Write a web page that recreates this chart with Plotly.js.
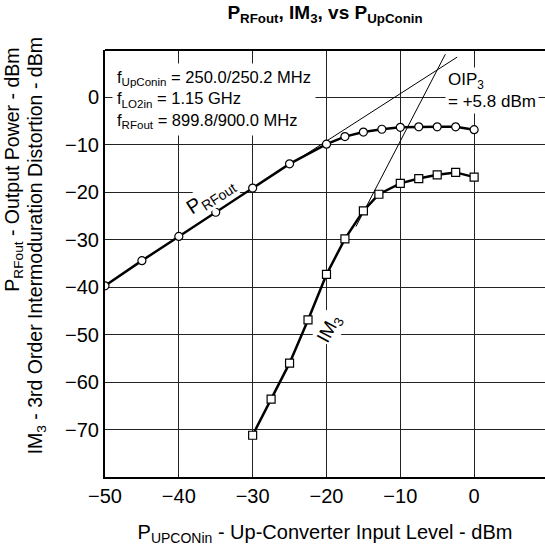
<!DOCTYPE html>
<html><head><meta charset="utf-8">
<script src="https://cdn.plot.ly/plotly-3.0.1.min.js"></script>
<style>html,body{margin:0;padding:0;background:#fff}</style>
</head><body><div id="chart" style="width:545px;height:546px"></div>
<script>
// P_RFout (circles)
const prfX = [-50, -45, -40, -35, -30, -25, -20, -17.5, -15, -12.5, -10, -7.5, -5, -2.5, 0];
const prfY = [-39.7, -34.4, -29.3, -24.2, -19.1, -14.0, -9.85, -8.25, -7.3, -6.7, -6.3, -6.2, -6.2, -6.2, -6.8];
// IM3 (squares)
const im3X = [-30, -27.5, -25, -22.5, -20, -17.5, -15, -12.9, -10, -7.5, -5, -2.5, 0];
const im3Y = [-71.2, -63.6, -56.0, -46.9, -37.3, -29.8, -23.9, -20.4, -18.1, -17.1, -16.3, -15.8, -16.8];
// extrapolation (asymptote) lines
const fundLineX = [-25, -2.3];
const fundLineY = [-14.2, 8.5];
const im3LineX = [-16, -3.9];
const im3LineY = [-27.2, 9.1];
const xTicks = [-50, -40, -30, -20, -10, 0];
const yTicks = [-70, -60, -50, -40, -30, -20, -10, 0];

const F = '"Liberation Sans", Arial, Helvetica, sans-serif';
const fmt = v => v < 0 ? '\u2212' + Math.abs(v) : String(v);

const traces = [
  {x: fundLineX, y: fundLineY, mode: 'lines', line: {color: '#000', width: 1}, hoverinfo: 'skip'},
  {x: im3LineX, y: im3LineY, mode: 'lines', line: {color: '#000', width: 1}, hoverinfo: 'skip'},
  {x: prfX, y: prfY, mode: 'lines+markers', line: {color: '#000', width: 2.5},
   marker: {symbol: 'circle', size: 8, color: '#fff', line: {color: '#000', width: 1.2}}},
  {x: im3X, y: im3Y, mode: 'lines+markers', line: {color: '#000', width: 2.5},
   marker: {symbol: 'square', size: 8, color: '#fff', line: {color: '#000', width: 1.2}}}
];

const layout = {
  width: 545, height: 546,
  margin: {l: 105, r: 0, t: 50, b: 69},
  paper_bgcolor: '#fff', plot_bgcolor: '#fff',
  showlegend: false,
  font: {family: F, color: '#000', size: 20},
  title: {
    text: '<b>P<sub>RFout</sub>, IM<sub>3</sub>, vs P<sub>UpConin</sub></b>',
    font: {family: F, size: 19, color: '#000'},
    xref: 'paper', x: 0.5, xanchor: 'center',
    yref: 'container', y: 1 - 12.5/546, yanchor: 'middle'
  },
  xaxis: {
    range: [-50, 9.6], tickvals: xTicks, ticktext: xTicks.map(fmt),
    showgrid: true, gridcolor: '#222', gridwidth: 1, zeroline: false,
    showline: true, linecolor: '#000', linewidth: 2, ticks: '', ticklen: 0,
    tickfont: {family: F, size: 20, color: '#000'},
    title: {text: 'P<sub>UPCONin</sub> - Up-Converter Input Level - dBm', font: {family: F, size: 20, color: '#000'}, standoff: 22}
  },
  yaxis: {
    range: [-80, 10], tickvals: yTicks, ticktext: yTicks.map(fmt),
    showgrid: true, gridcolor: '#222', gridwidth: 1, zeroline: false,
    showline: true, linecolor: '#000', linewidth: 2, ticks: '',
    tickfont: {family: F, size: 20, color: '#000'}
  },
  shapes: [
    {type: 'line', xref: 'paper', yref: 'paper', x0: 0, x1: 1, y0: 1, y1: 1, line: {color: '#000', width: 2}}
  ],
  annotations: [
    {xref: 'paper', yref: 'paper', x: -0.207, y: 1.01, xanchor: 'center', yanchor: 'top', textangle: -90, showarrow: false,
     text: 'P<sub>RFout</sub> - Output Power - dBm', font: {family: F, size: 19.5, color: '#000'}},
    {xref: 'paper', yref: 'paper', x: -0.155, y: 1.035, xanchor: 'center', yanchor: 'top', textangle: -90, showarrow: false,
     text: 'IM<sub>3</sub> - 3rd Order Intermoduration Distortion - dBm', font: {family: F, size: 19.5, color: '#000'}},
    {xref: 'x', yref: 'y', x: -49.0, y: -0.4, xanchor: 'left', yanchor: 'middle', showarrow: false, align: 'left',
     bgcolor: '#fff', borderpad: 4,
     text: 'f<sub>UpConin</sub> = 250.0/250.2 MHz<br>f<sub>LO2in</sub> = 1.15 GHz<br>f<sub>RFout</sub> = 899.8/900.0 MHz',
     font: {family: F, size: 16.5, color: '#000'}},
    {xref: 'x', yref: 'y', x: -4.0, y: 1.5, xanchor: 'left', yanchor: 'middle', showarrow: false, align: 'left',
     bgcolor: '#fff', borderpad: 2,
     text: 'OIP<sub>3</sub><br>= +5.8 dBm', font: {family: F, size: 17, color: '#000'}},
    {xref: 'x', yref: 'y', x: -35.7, y: -20.9, showarrow: false, textangle: -33, bgcolor: '#fff', borderpad: 0,
     text: 'P<sub>RFout</sub>', font: {family: F, size: 20, color: '#000'}},
    {xref: 'x', yref: 'y', x: -19.5, y: -48.9, showarrow: false, textangle: -62, bgcolor: '#fff', borderpad: 0,
     text: 'IM<sub>3</sub>', font: {family: F, size: 19, color: '#000'}}
  ]
};

Plotly.newPlot('chart', traces, layout, {displayModeBar: false, staticPlot: true});
</script>
</body></html>
